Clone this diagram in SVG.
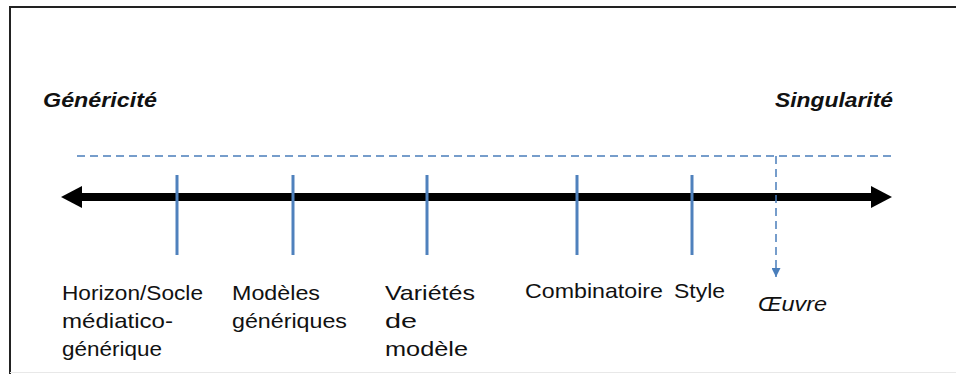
<svg xmlns="http://www.w3.org/2000/svg" width="956" height="374" viewBox="0 0 956 374">
<defs>
<style>
.t{font-family:"Liberation Sans",Arial,sans-serif;font-size:21px;fill:#111}
.h{font-family:"Liberation Sans",Arial,sans-serif;font-size:20px;font-weight:bold;font-style:italic;fill:#111}
.i{font-style:italic}
.tick{stroke:#4f81bd;stroke-width:3}
.dash{stroke:#4a7ebb;stroke-width:1.5;stroke-dasharray:8 5;fill:none}
</style>
<marker id="bluehead" viewBox="0 0 10 10" refX="10" refY="5" markerWidth="9" markerHeight="9" markerUnits="userSpaceOnUse" orient="auto">
<path d="M0,0 L10,5 L0,10 z" fill="#4a7ebb"/>
</marker>
</defs>
<rect width="956" height="374" fill="#fff"/>
<g id="frame">
<path d="M10,374 V7 H956" fill="none" stroke="#222" stroke-width="2"/>
<line x1="10" y1="372.5" x2="956" y2="372.5" stroke="#e8e8e8" stroke-width="1"/>
</g>
<g id="headings">
<text class="h" x="43" y="107" textLength="114" lengthAdjust="spacingAndGlyphs">Généricité</text>
<text class="h" x="775" y="107" textLength="118" lengthAdjust="spacingAndGlyphs">Singularité</text>
</g>
<g id="connectors">
<line class="dash" x1="77" y1="156" x2="893" y2="156"/>
<line x1="78" y1="197" x2="876" y2="197" stroke="#000" stroke-width="8"/>
<path d="M61,197 L82,186 L82,208 z" fill="#000"/>
<path d="M892,197 L871,186 L871,208 z" fill="#000"/>
<line class="dash" x1="776" y1="156" x2="776" y2="277" marker-end="url(#bluehead)"/>
</g>
<g id="node-horizon">
<line class="tick" x1="177" y1="175" x2="177" y2="255"/>
<text class="t" x="62" y="300" textLength="141" lengthAdjust="spacingAndGlyphs">Horizon/Socle</text>
<text class="t" x="62" y="328" textLength="111" lengthAdjust="spacingAndGlyphs">médiatico-</text>
<text class="t" x="62" y="356" textLength="100" lengthAdjust="spacingAndGlyphs">générique</text>
</g>
<g id="node-modeles">
<line class="tick" x1="293" y1="175" x2="293" y2="255"/>
<text class="t" x="232" y="300" textLength="88" lengthAdjust="spacingAndGlyphs">Modèles</text>
<text class="t" x="232" y="328" textLength="115" lengthAdjust="spacingAndGlyphs">génériques</text>
</g>
<g id="node-varietes">
<line class="tick" x1="427" y1="175" x2="427" y2="255"/>
<text class="t" x="385" y="300" textLength="90" lengthAdjust="spacingAndGlyphs">Variétés</text>
<text class="t" x="385" y="328" textLength="32" lengthAdjust="spacingAndGlyphs">de</text>
<text class="t" x="385" y="356" textLength="83" lengthAdjust="spacingAndGlyphs">modèle</text>
</g>
<g id="node-combinatoire">
<line class="tick" x1="577" y1="175" x2="577" y2="255"/>
<text class="t" x="525" y="298" textLength="138" lengthAdjust="spacingAndGlyphs">Combinatoire</text>
</g>
<g id="node-style">
<line class="tick" x1="692" y1="175" x2="692" y2="255"/>
<text class="t" x="674" y="298" textLength="51" lengthAdjust="spacingAndGlyphs">Style</text>
</g>
<g id="node-oeuvre">
<text class="t i" x="758" y="311" textLength="69" lengthAdjust="spacingAndGlyphs">Œuvre</text>
</g>
</svg>
